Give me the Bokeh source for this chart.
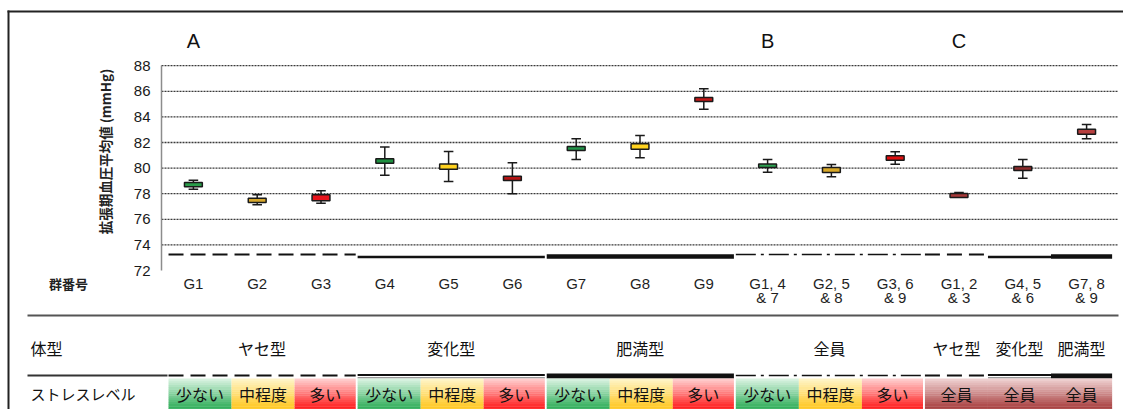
import math
import numpy as np
from bokeh.plotting import figure
from bokeh.models import Range1d, FixedTicker
from bokeh.core.properties import value
from bokeh.embed import file_html
from bokeh.resources import INLINE

# ---------------------------------------------------------------- data
groups = ["G1", "G2", "G3", "G4", "G5", "G6", "G7", "G8", "G9",
          "G1, 4 & 7", "G2, 5 & 8", "G3, 6 & 9",
          "G1, 2 & 3", "G4, 5 & 6", "G7, 8 & 9"]
label_line1 = ["G1", "G2", "G3", "G4", "G5", "G6", "G7", "G8", "G9",
               "G1, 4", "G2, 5", "G3, 6", "G1, 2", "G4, 5", "G7, 8"]
label_line2 = ["", "", "", "", "", "", "", "", "",
               "& 7", "& 8", "& 9", "& 3", "& 6", "& 9"]

means      = [78.72, 77.47, 77.68, 80.57, 80.13, 79.21, 81.53, 81.69, 85.36,
              80.20, 79.84, 80.80, 77.86, 79.97, 82.86]
box_low    = [78.54, 77.31, 77.45, 80.38, 79.91, 79.03, 81.38, 81.48, 85.20,
              80.05, 79.66, 80.62, 77.70, 79.81, 82.65]
box_high   = [78.88, 77.65, 77.91, 80.74, 80.33, 79.37, 81.69, 81.90, 85.52,
              80.33, 80.05, 80.96, 78.02, 80.13, 83.04]
whisk_low  = [78.35, 77.13, 77.26, 79.45, 78.95, 77.99, 80.67, 80.80, 84.60,
              79.68, 79.32, 80.30, 77.73, 79.21, 82.29]
whisk_high = [79.05, 77.91, 78.23, 81.64, 81.30, 80.41, 82.29, 82.55, 86.19,
              80.67, 80.28, 81.27, 78.09, 80.67, 83.41]
box_colors = ["#2a9d4a", "#d6a72c", "#e8141c", "#1e9040", "#ffd21f", "#b41414",
              "#23954a", "#ffd21f", "#c41818", "#2ca050", "#d8a828", "#e01010",
              "#a83a3a", "#8e2c2c", "#b84040"]

body_types = ["ヤセ型"] * 3 + ["変化型"] * 3 + ["肥満型"] * 3 + ["全員"] * 3 + \
             ["ヤセ型", "変化型", "肥満型"]
stress_levels = ["少ない", "中程度", "多い"] * 4 + ["全員"] * 3
section_letters = ["A", "B", "C"]
section_first = [0, 9, 12]

y_ticks = [72, 74, 76, 78, 80, 82, 84, 86, 88]
y_title = "拡張期血圧平均値 (mmHg)"
row_group = "群番号"
row_body = "体型"
row_stress = "ストレスレベル"

# ---------------------------------------------------------------- layout
W, H = 1123, 409
AXIS_PX = 161                           # pixel column of the value axis
RIGHT_PX = 1118                         # right end of the plotting area
N = len(groups)
PX_X = (RIGHT_PX - AXIS_PX) / N         # pixels per category
PX_Y = 12.8                             # pixels per mmHg
Y0_PX = 270                             # pixel row of 72 mmHg


def dx(px):
    return (px - AXIS_PX) / PX_X


def dy(py):
    return 72 + (Y0_PX - py) / PX_Y


JP = "Noto Sans CJK JP"
LAT = "Liberation Sans"

# the frame fills the whole canvas; the value axis is pinned at x = 0
p = figure(width=W, height=H,
           x_range=Range1d(dx(0), dx(W)), y_range=Range1d(dy(H), dy(0)),
           output_backend="svg", toolbar_location=None, x_axis_location=None,
           min_border=0)
p.outline_line_color = None
p.background_fill_color = "white"
p.border_fill_color = "white"
p.grid.visible = False

ax = p.yaxis[0]
ax.fixed_location = 0
ax.ticker = FixedTicker(ticks=y_ticks)
ax.bounds = (y_ticks[0], y_ticks[-1])
ax.major_tick_line_color = None
ax.minor_tick_line_color = None
ax.major_tick_out = 0
ax.major_tick_in = 0
ax.axis_line_color = "#8c8c8c"
ax.axis_line_width = 1.5
ax.major_label_text_font = LAT
ax.major_label_text_font_size = "15px"
ax.major_label_text_color = "#1a1a1a"
ax.major_label_standoff = 11

# dotted horizontal guides across the category area only
grid_y = y_ticks[1:]
p.segment([0] * len(grid_y), grid_y, [N] * len(grid_y), grid_y,
          line_color="#3a3a3a", line_dash="2 1", line_width=1.3, level="underlay")

# ---------------------------------------------------------------- boxes
x = np.arange(N) + 0.5
cap = 0.075
half_box = 0.14
p.segment(x, whisk_low, x, whisk_high, line_color="#1a1a1a", line_width=1.5)
p.segment(x - cap, whisk_high, x + cap, whisk_high, line_color="#1a1a1a", line_width=1.5)
p.segment(x - cap, whisk_low, x + cap, whisk_low, line_color="#1a1a1a", line_width=1.5)
p.quad(left=x - half_box, right=x + half_box, bottom=box_low, top=box_high,
       fill_color=box_colors, line_color="#1a1a1a", line_width=1.5)

p.text([x[i] for i in section_first], [dy(40)] * 3, text=section_letters,
       text_font=value(LAT), text_font_size="20px", text_color="#111111",
       text_align="center", text_baseline="middle")

p.text(x, [dy(283)] * N, text=label_line1, text_font=value(LAT),
       text_font_size="15px", text_color="#1f1f1f",
       text_align="center", text_baseline="middle")
p.text(x, [dy(297)] * N, text=label_line2, text_font=value(LAT),
       text_font_size="15px", text_color="#1f1f1f",
       text_align="center", text_baseline="middle")

# ---------------------------------------------------------------- table geometry
T0, PITCH, GAP = 0.11, 0.988, 0.03


def cell_left(i):
    return T0 + i * PITCH


def cell_right(i):
    return T0 + (i + 1) * PITCH - (GAP if i % 3 == 2 else 0)


spans = []
start = 0
for i in range(1, N + 1):
    if i == N or body_types[i] != body_types[start]:
        spans.append((start, i - 1, body_types[start]))
        start = i

line_style = {
    "ヤセ型": dict(line_dash="15 7", line_width=2.2),
    "変化型": dict(line_dash="solid", line_width=2.6),
    "肥満型": dict(line_dash="solid", line_width=4.5),
    "全員": dict(line_dash="20 5 3 5", line_width=1.6),
}
chart_row_px = {"ヤセ型": 254, "変化型": 256.5, "肥満型": 256, "全員": 254}

for a, b, bt in spans:
    x0, x1 = cell_left(a), cell_right(b)
    yc = dy(chart_row_px[bt])
    p.line([x0, x1], [yc, yc], line_color="#111111", **line_style[bt])
    if bt == "変化型":
        p.line([x0, x1], [dy(374.5)] * 2, line_color="#111111", line_width=2)
        p.line([x0, x1], [dy(377.3)] * 2, line_color="#9a9a9a", line_width=1.5)
    elif bt == "肥満型":
        p.line([x0, x1], [dy(375.5)] * 2, line_color="#111111", line_width=5)
    else:
        p.line([x0, x1], [dy(375)] * 2, line_color="#111111", **line_style[bt])

body_x = [(cell_left(a) + cell_right(b)) / 2 for a, b, _ in spans]
body_txt = [bt for _, _, bt in spans]
p.text(body_x, [dy(347)] * len(spans), text=body_txt, text_font=value(JP),
       text_font_size="16px", text_color="#111111",
       text_align="center", text_baseline="middle")

fills = {
    "少ない": ("#d8f2e0", "#1ca64a"),
    "中程度": ("#fff4c6", "#ffc20e"),
    "多い": ("#ffcdcd", "#ff0a0a"),
    "全員": ("#eed0d0", "#a02e2e"),
}


def mix(c0, c1, t):
    a = [int(c0[k:k + 2], 16) for k in (1, 3, 5)]
    b = [int(c1[k:k + 2], 16) for k in (1, 3, 5)]
    return "#%02x%02x%02x" % tuple(round(a[j] + (b[j] - a[j]) * t) for j in range(3))


STRIPS = 16
top_px, bot_px = 378, 412
ql, qr, qt, qb, qc = [], [], [], [], []
for i, s in enumerate(stress_levels):
    c_top, c_bot = fills[s]
    for k in range(STRIPS):
        t0 = top_px + (bot_px - top_px) * k / STRIPS
        t1 = top_px + (bot_px - top_px) * (k + 1) / STRIPS
        ql.append(cell_left(i))
        qr.append(cell_right(i))
        qt.append(dy(t0))
        qb.append(dy(t1) - 0.02)
        qc.append(mix(c_top, c_bot, k / (STRIPS - 1)))
p.quad(left=ql, right=qr, top=qt, bottom=qb, fill_color=qc, line_color=None)

cell_x = [(cell_left(i) + cell_right(i)) / 2 for i in range(N)]
p.text(cell_x, [dy(393)] * N, text=stress_levels, text_font=value(JP),
       text_font_size="16px", text_color="#111111",
       text_align="center", text_baseline="middle")

# ---------------------------------------------------------------- border, rules, row headers
def hrule(x0px, x1px, ypx, width, color):
    p.line([dx(x0px), dx(x1px)], [dy(ypx)] * 2, line_color=color, line_width=width)


def vrule(xpx, y0px, y1px, width, color):
    p.line([dx(xpx)] * 2, [dy(y0px), dy(y1px)], line_color=color, line_width=width)


hrule(7, W + 2, 11, 2, "#222222")      # top border
vrule(8, 10, H + 2, 2, "#222222")      # left border
hrule(27, 1118, 315, 2, "#555555")     # rule under the group numbers
hrule(27, 167, 375, 2, "#333333")      # rule left of the stress cells

p.text([dx(68)], [dy(283)], text=[row_group], text_font=value(JP),
       text_font_size="13px", text_font_style="bold", text_color="#222222",
       text_align="center", text_baseline="middle")
p.text([dx(30)], [dy(347)], text=[row_body], text_font=value(JP),
       text_font_size="16px", text_color="#111111",
       text_align="left", text_baseline="middle")
p.text([dx(30)], [dy(393)], text=[row_stress], text_font=value(JP),
       text_font_size="15px", text_color="#111111",
       text_align="left", text_baseline="middle")
p.text([dx(104)], [dy(151)], text=[y_title], angle=math.pi / 2,
       text_font=value(JP), text_font_size="13.5px", text_font_style="bold",
       text_color="#222222", text_align="center", text_baseline="middle")

open("out.html", "w").write(file_html(p, INLINE))
